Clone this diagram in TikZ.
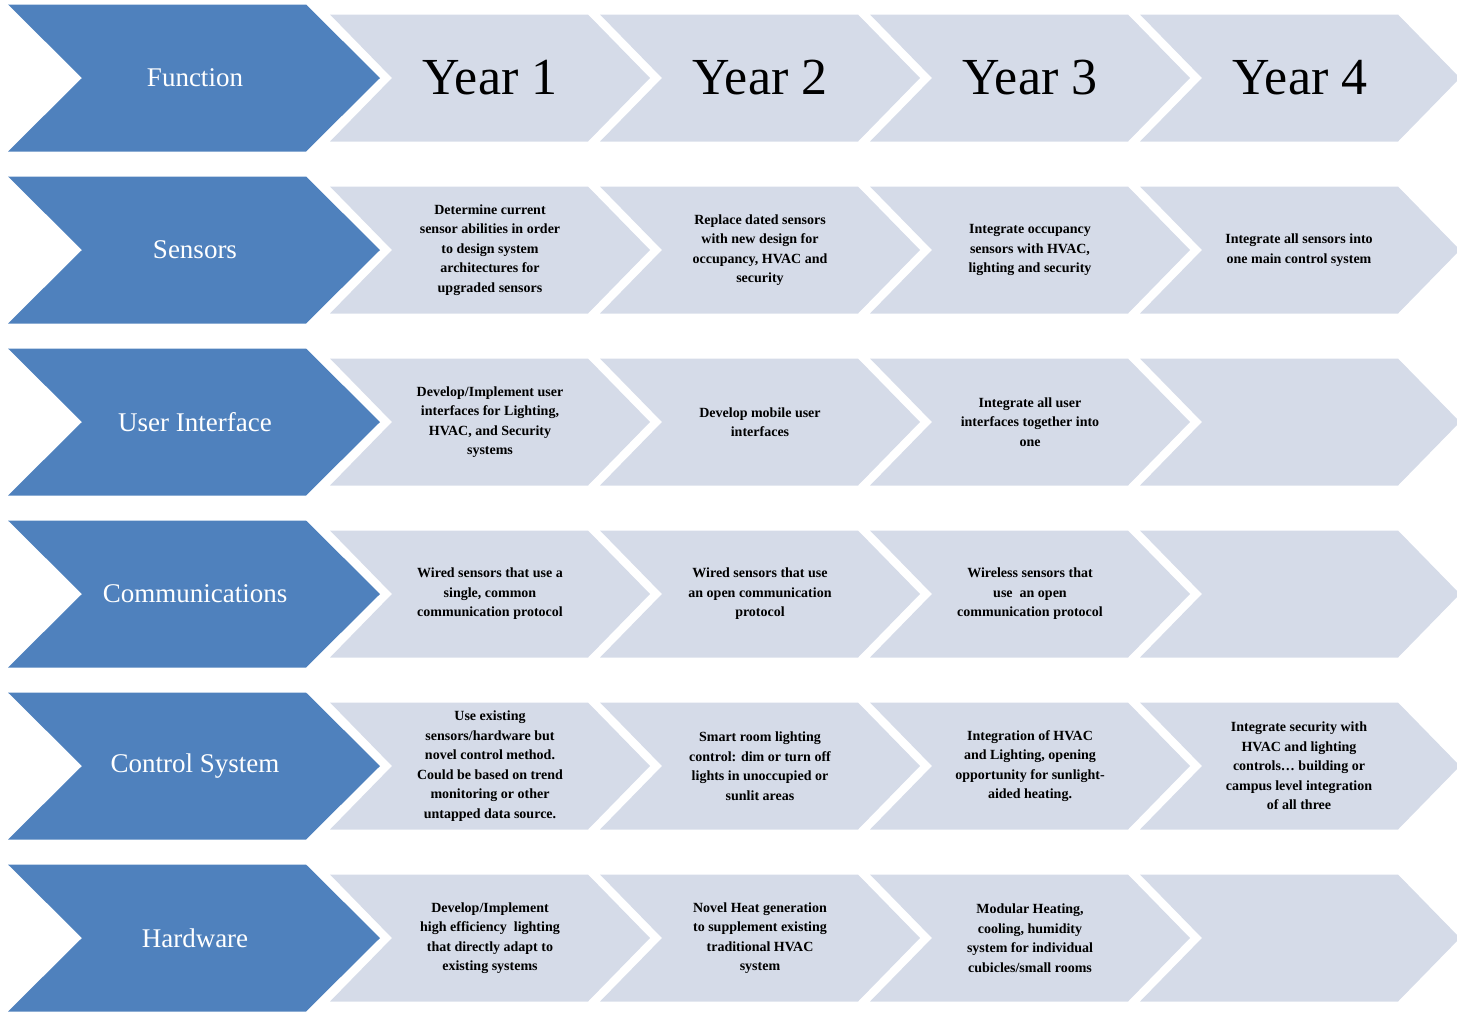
\documentclass[tikz,border=0pt]{standalone}
\usepackage{fontspec}
\setmainfont{Liberation Serif}
\definecolor{cblue}{HTML}{4F81BD}
\definecolor{clight}{HTML}{D5DBE8}
\tikzset{
 celltext/.style={font=\fontsize{14}{19.5}\selectfont\bfseries, align=center, inner sep=0pt},
 bluetext/.style={font=\fontsize{27}{30}\selectfont, text=white, inner sep=0pt},
 yeartext/.style={font=\fontsize{52}{56}\selectfont, inner sep=0pt}
}
\newcommand{\mychev}[6]{% x0, yc, width, halfheight, depth, color
 \fill[#6] (#1,#2-#4) -- (#1+#3-#5,#2-#4) -- (#1+#3,#2) -- (#1+#3-#5,#2+#4) -- (#1,#2+#4) -- (#1+#5,#2) -- cycle;}
\begin{document}
\begin{tikzpicture}[x=1pt,y=-1pt]
\useasboundingbox (0,0) rectangle (1457,1015);
\foreach \r/\lab in {0/Function,1/Sensors,2/User Interface,3/Communications,4/Control System,5/Hardware}{
  \pgfmathsetmacro{\yc}{78+172*\r}
  \foreach \c in {0,1,2,3}{
    \pgfmathsetmacro{\xo}{330+270*\c}
    \mychev{\xo}{\yc}{320}{63.5}{62}{clight}
  }
  \mychev{8}{\yc}{372}{73.5}{74}{cblue}
  \node[bluetext] (b\r) at (195,\yc) {\lab};
}
\foreach \c/\t in {0/Year 1,1/Year 2,2/Year 3,3/Year 4}{
  \node[yeartext] (y\c) at (490+270*\c,78) {\t};
}
\node[celltext] (s1) at (490,250) {Determine current\\sensor abilities in order\\to design system\\architectures for\\upgraded sensors};
\node[celltext] (s2) at (760,250) {Replace dated sensors\\with new design for\\occupancy, HVAC and\\security};
\node[celltext] (s3) at (1030,250) {Integrate occupancy\\sensors with HVAC,\\lighting and security};
\node[celltext] (s4) at (1299,250) {Integrate all sensors into\\one main control system};
\node[celltext] (u1) at (490,422) {Develop/Implement user\\interfaces for Lighting,\\HVAC, and Security\\systems};
\node[celltext] (u2) at (760,422) {Develop mobile user\\interfaces};
\node[celltext] (u3) at (1030,422) {Integrate all user\\interfaces together into\\one};
\node[celltext] (c1) at (490,594) {Wired sensors that use a\\single, common\\communication protocol};
\node[celltext] (c2) at (760,594) {Wired sensors that use\\an open communication\\protocol};
\node[celltext] (c3) at (1030,594) {Wireless sensors that\\use\ \ an open\\communication protocol};
\node[celltext] (k1) at (490,766) {Use existing\\sensors/hardware but\\novel control method.\\Could be based on trend\\monitoring or other\\untapped data source.};
\node[celltext] (k2) at (760,766) {Smart room lighting\\control: dim or turn off\\lights in unoccupied or\\sunlit areas};
\node[celltext] (k3) at (1030,766) {Integration of HVAC\\and Lighting, opening\\opportunity for sunlight-\\aided heating.};
\node[celltext] (k4) at (1299,766) {Integrate security with\\HVAC and lighting\\controls\ldots\ building or\\campus level integration\\of all three};
\node[celltext] (h1) at (490,938) {Develop/Implement\\high efficiency\ \ lighting\\that directly adapt to\\existing systems};
\node[celltext] (h2) at (760,938) {Novel Heat generation\\to supplement existing\\traditional HVAC\\system};
\node[celltext] (h3) at (1030,938) {Modular Heating,\\cooling, humidity\\system for individual\\cubicles/small rooms};
\end{tikzpicture}
\end{document}
